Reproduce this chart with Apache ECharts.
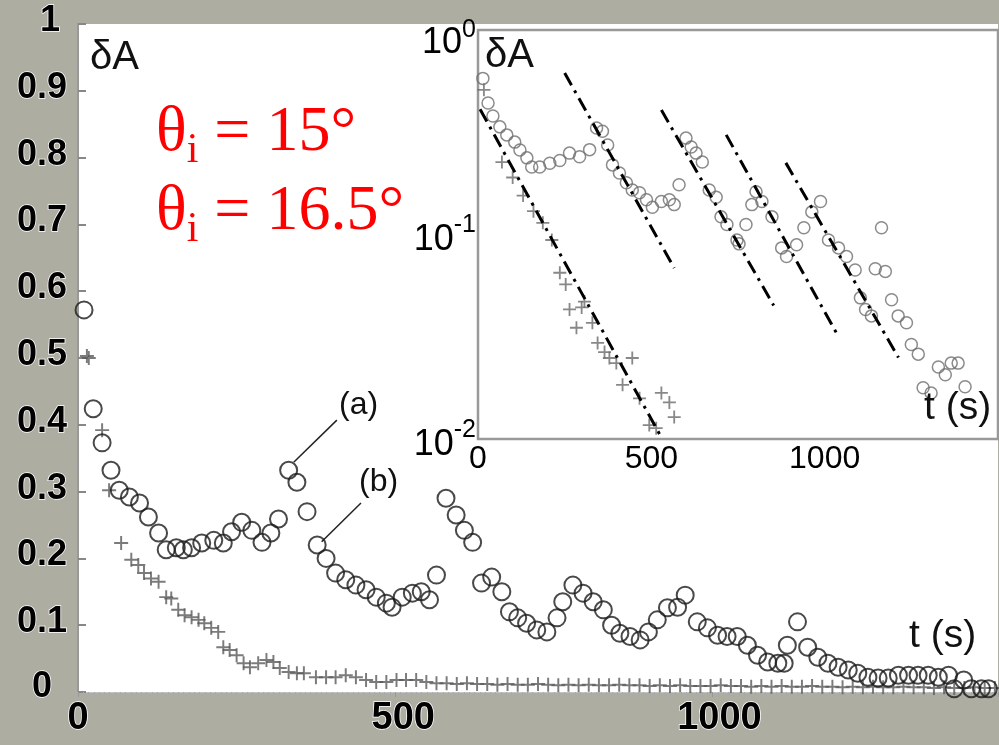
<!DOCTYPE html>
<html><head><meta charset="utf-8">
<script src="https://cdn.jsdelivr.net/npm/echarts@6/dist/echarts.min.js"></script>
<style>html,body{margin:0;padding:0;background:#aeada2}#c{width:999px;height:745px}</style>
</head><body><div id="c"></div>
<script>
// ---------- main panel data: t (s), deltaA ----------
const mainCircles = [
[9.5,0.572],[24,0.424],[38,0.373],[52,0.332],[65,0.302],[81,0.292],[97,0.283],[111,0.262],[127,0.238],[139,0.213],
[155,0.216],[166,0.213],[179,0.216],[195,0.223],[214,0.227],[229,0.223],[242,0.24],[258,0.254],[274,0.242],[290,0.224],
[304,0.238],[316,0.259],[332,0.332],[345,0.314],[361,0.27],[377,0.22],[391,0.2],[406,0.178],[422,0.168],[438,0.16],
[454,0.153],[470,0.142],[486,0.133],[495,0.127],[511,0.142],[527,0.148],[541,0.15],[554,0.138],[565,0.175],[580,0.29],
[596,0.265],[609,0.242],[622,0.224],[636,0.163],[652,0.172],[668,0.15],[680,0.12],[693,0.111],[707,0.103],[723,0.093],
[739,0.09],[755,0.111],[764,0.135],[780,0.16],[796,0.148],[812,0.135],[828,0.123],[841,0.1],[854,0.088],[870,0.083],
[886,0.078],[899,0.09],[913,0.108],[929,0.126],[945,0.127],[957,0.145],[976,0.105],[992,0.096],[1008,0.085],[1023,0.083],
[1039,0.083],[1055,0.07],[1071,0.055],[1087,0.045],[1103,0.043],[1113,0.043],[1118,0.07],[1134,0.105],[1150,0.067],[1166,0.052],
[1182,0.043],[1198,0.037],[1214,0.033],[1229,0.028],[1245,0.022],[1261,0.021],[1277,0.021],[1293,0.025],[1309,0.025],[1324,0.025],
[1340,0.025],[1356,0.022],[1372,0.025],[1381,0.005],[1396,0.018],[1408,0.005],[1424,0.005],[1435,0.005]
];
const mainCrosses = [
[14,0.503],[17,0.5],[38,0.392],[49,0.302],[68,0.223],[84,0.198],[95,0.19],[104,0.178],[115,0.17],[127,0.165],
[139,0.142],[147,0.14],[158,0.123],[168,0.115],[179,0.112],[190,0.108],[199,0.103],[210,0.096],[221,0.09],[229,0.067],
[239,0.063],[250,0.055],[261,0.043],[271,0.037],[284,0.043],[297,0.048],[308,0.045],[318,0.036],[332,0.03],[345,0.028],
[356,0.028],[375,0.022],[391,0.022],[406,0.022],[422,0.025],[438,0.022],[454,0.018],[470,0.015],[486,0.015],[502,0.018],
[517,0.018],[533,0.018],[549,0.015],[565,0.013],[581,0.013],[597,0.012],[613,0.013],[629,0.012],[645,0.012],[661,0.011],
[677,0.012],[693,0.011],[709,0.011],[725,0.012],[741,0.011],[757,0.01],[773,0.011],[789,0.01],[805,0.011],[821,0.01],
[837,0.01],[853,0.011],[869,0.01],[885,0.01],[901,0.009],[917,0.01],[933,0.009],[949,0.01],[965,0.009],[981,0.009],
[997,0.009],[1013,0.01],[1029,0.009],[1045,0.009],[1061,0.008],[1077,0.009],[1093,0.008],[1109,0.009],[1125,0.008],[1141,0.008],
[1157,0.009],[1173,0.008],[1189,0.008],[1205,0.007],[1221,0.008],[1237,0.007],[1253,0.008],[1269,0.007],[1285,0.007],[1301,0.008],
[1317,0.007],[1333,0.007],[1349,0.006],[1365,0.007],[1381,0.006],[1397,0.006],[1413,0.007],[1429,0.006],[1445,0.006]
];
// annotation leader lines (a) and (b): [t, deltaA] end points
const leaderA = [[340,0.344],[408,0.407]];
const leaderB = [[384,0.225],[446,0.283]];
const mainYTickLabels = ['0','0.1','0.2','0.3','0.4','0.5','0.6','0.7','0.8','0.9','1'];
const mainXTickLabels = {0:'0',500:'500',1000:'1000'};

// ---------- inset data (log scale) ----------
const insetCircles = [
[14,0.58],[29,0.44],[43,0.38],[63,0.336],[83,0.307],[106,0.283],[121,0.259],[141,0.237],[155,0.214],[178,0.214],
[207,0.223],[236,0.23],[264,0.25],[293,0.24],[322,0.26],[342,0.332],[359,0.32],[374,0.274],[388,0.219],[408,0.2],
[428,0.179],[445,0.165],[466,0.16],[486,0.148],[503,0.136],[529,0.145],[552,0.148],[566,0.14],[580,0.175],[600,0.296],
[615,0.268],[629,0.25],[647,0.226],[667,0.165],[687,0.152],[701,0.122],[718,0.112],[747,0.094],[753,0.09],[773,0.112],
[790,0.14],[802,0.162],[819,0.145],[848,0.122],[876,0.086],[890,0.078],[919,0.089],[940,0.108],[963,0.129],[988,0.145],
[1011,0.094],[1040,0.086],[1063,0.078],[1088,0.067],[1103,0.049],[1118,0.043],[1135,0.04],[1146,0.068],[1164,0.108],[1175,0.066],
[1193,0.048],[1212,0.04],[1236,0.037],[1250,0.029],[1270,0.026],[1284,0.0178],[1307,0.0168],[1328,0.0225],[1348,0.0206],[1365,0.0235],
[1385,0.0235],[1405,0.018]
];
const insetCrosses = [
[17,0.51],[69,0.226],[100,0.19],[130,0.155],[160,0.13],[187,0.114],[213,0.094],[236,0.065],[253,0.057],[264,0.043],
[284,0.035],[299,0.044],[307,0.047],[330,0.037],[345,0.0295],[365,0.0266],[379,0.0249],[399,0.0235],[417,0.0184],[445,0.0249],
[466,0.0158],[494,0.0117],[514,0.0113],[529,0.0168],[552,0.0151],[566,0.0128]
];
const fitLines = [
[[6,0.41],[526,0.0104]],
[[250,0.616],[566,0.0686]],
[[529,0.406],[853,0.045]],
[[716,0.307],[1034,0.033]],
[[888,0.224],[1213,0.025]]
];
const insetXTickLabels = {0:'0',500:'500',1000:'1000'};

const SANS = "'Liberation Sans', Arial, sans-serif";
const SERIF = "'Liberation Serif', 'Times New Roman', serif";
const crossPath = 'path://M4.3,0H5.7V4.3H10V5.7H5.7V10H4.3V5.7H0V4.3H4.3Z';

const chart = echarts.init(document.getElementById('c'), null, {renderer:'canvas'});

const series = [
  {type:'scatter', xAxisIndex:0, yAxisIndex:0, data: mainCrosses, symbol: crossPath, symbolSize: 14,
   itemStyle:{color:'#5a5a5a'}, z:3},
  {type:'scatter', xAxisIndex:0, yAxisIndex:0, data: mainCircles, symbol:'circle', symbolSize: 17,
   itemStyle:{color:'rgba(0,0,0,0)', borderColor:'#1c1c1c', borderWidth:2}, z:4},
  {type:'line', xAxisIndex:0, yAxisIndex:0, data: leaderA, symbol:'none', lineStyle:{color:'#222', width:1.5}, z:4},
  {type:'line', xAxisIndex:0, yAxisIndex:0, data: leaderB, symbol:'none', lineStyle:{color:'#222', width:1.5}, z:4},
  {type:'scatter', xAxisIndex:1, yAxisIndex:1, data: insetCircles, symbol:'circle', symbolSize: 12,
   itemStyle:{color:'rgba(0,0,0,0)', borderColor:'#6e6e6e', borderWidth:1.5}, z:5},
  {type:'scatter', xAxisIndex:1, yAxisIndex:1, data: insetCrosses, symbol: crossPath, symbolSize: 13,
   itemStyle:{color:'#6a6a6a'}, z:5}
];
fitLines.forEach(function(seg){
  series.push({type:'line', xAxisIndex:1, yAxisIndex:1, data: seg, symbol:'none',
    lineStyle:{color:'#000', width:3, type:[14,6,3,6]}, z:6});
});

const redRich = {
  a:{fontFamily:SERIF, fontSize:64, fill:'#f00', color:'#f00'},
  b:{fontFamily:SERIF, fontSize:42, fill:'#f00', color:'#f00', padding:[36,0,0,0]}
};

const option = {
  animation:false,
  backgroundColor:'#aeada2',
  grid:[
    {left:78, right:1, top:24, bottom:53, show:true, backgroundColor:'#fff', borderWidth:0, z:0},
    {left:478, right:1, top:30, bottom:306, show:true, backgroundColor:'#fff', borderColor:'#999', borderWidth:2.5, z:1}
  ],
  xAxis:[
    {gridIndex:0, type:'value', min:0, max:1450, interval:500,
     axisLine:{show:true, lineStyle:{color:'#c4c4c4', width:1}},
     axisTick:{show:true, length:5, lineStyle:{color:'#999'}},
     minorTick:{show:true, splitNumber:60, length:5, lineStyle:{color:'#aaa'}},
     splitLine:{show:false},
     axisLabel:{fontFamily:SANS, fontSize:38, fontWeight:'bold', color:'#000', margin:8, textBorderColor:'#fff', textBorderWidth:1.5,
       showMaxLabel:false,
       formatter:function(v){ return mainXTickLabels[v] !== undefined ? '{x'+v+'|'+mainXTickLabels[v]+'}' : ''; },
       rich:{
         x0:{fontFamily:SANS, fontSize:38, fontWeight:'bold', padding:[0,0,0,0]},
         x500:{fontFamily:SANS, fontSize:38, fontWeight:'bold', padding:[0,0,0,16]},
         x1000:{fontFamily:SANS, fontSize:38, fontWeight:'bold', padding:[0,0,0,14]}
       }}},
    {gridIndex:1, type:'value', min:0, max:1500, interval:500,
     axisLine:{show:false},
     axisTick:{show:true, inside:true, length:5, lineStyle:{color:'#333', width:1.5}},
     splitLine:{show:false},
     axisLabel:{fontFamily:SANS, fontSize:32, color:'#000', margin:4, showMaxLabel:false,
       formatter:function(v){ return insetXTickLabels[v] !== undefined ? insetXTickLabels[v] : ''; }}}
  ],
  yAxis:[
    {gridIndex:0, type:'value', min:0, max:1, interval:0.1,
     axisLine:{show:true, lineStyle:{color:'#999', width:2}},
     axisTick:{show:true, inside:true, length:8, lineStyle:{color:'#888', width:2}},
     splitLine:{show:false},
     axisLabel:{fontFamily:SANS, fontSize:36, fontWeight:'bold', color:'#000', margin:11, textBorderColor:'#fff', textBorderWidth:1.5,
       formatter:function(v){
         const i = Math.round(v*10);
         const s = mainYTickLabels[i];
         if (i===0) return '{z|'+s+'}';
         if (i===10) return '{o|'+s+'}';
         return '{n|'+s+'}';
       },
       rich:{
         n:{fontFamily:SANS, fontSize:36, fontWeight:'bold', padding:[0,0,6,0]},
         z:{fontFamily:SANS, fontSize:36, fontWeight:'bold', padding:[0,15,10,0]},
         o:{fontFamily:SANS, fontSize:36, fontWeight:'bold', padding:[0,7,6,0]}
       }}},
    {gridIndex:1, type:'log', logBase:10, min:0.01, max:1,
     axisLine:{show:false},
     axisTick:{show:true, inside:true, length:6, lineStyle:{color:'#333', width:1.5}},
     minorTick:{show:true, splitNumber:9, length:3, lineStyle:{color:'#333'}},
     splitLine:{show:false},
     axisLabel:{fontFamily:SANS, color:'#000', margin:2,
       formatter:function(v){
         const e = Math.round(Math.log10(v));
         if (e===0) return '{bt|10}{st|'+e+'}';
         return '{b|10}{s|'+e+'}';
       },
       rich:{
         b:{fontFamily:SANS, fontSize:36, padding:[12,0,0,0]},
         s:{fontFamily:SANS, fontSize:25, padding:[0,0,18,0]},
         bt:{fontFamily:SANS, fontSize:36, padding:[26,0,0,0]},
         st:{fontFamily:SANS, fontSize:25, padding:[0,0,0,0]}
       }}}
  ],
  graphic:[
    {type:'text', left:90, top:38, z:100, style:{text:'δA', font:"40px 'Liberation Sans', Arial, sans-serif", fill:'#111'}},
    {type:'text', left:485, top:36, z:100, style:{text:'δA', font:"40px 'Liberation Sans', Arial, sans-serif", fill:'#111'}},
    {type:'text', left:909, top:617, z:100, style:{text:'t (s)', font:"39px 'Liberation Sans', Arial, sans-serif", fill:'#111'}},
    {type:'text', left:924, top:389, z:100, style:{text:'t (s)', font:"39px 'Liberation Sans', Arial, sans-serif", fill:'#111'}},
    {type:'text', left:339, top:389, z:100, style:{text:'(a)', font:"32px 'Liberation Sans', Arial, sans-serif", fill:'#111'}},
    {type:'text', left:359, top:466, z:100, style:{text:'(b)', font:"32px 'Liberation Sans', Arial, sans-serif", fill:'#111'}},
    {type:'text', left:156, top:101, z:100, style:{text:'{a|θ}{b|i}{a| = 15°}', fill:'#f00', rich:redRich}},
    {type:'text', left:156, top:180, z:100, style:{text:'{a|θ}{b|i}{a| = 16.5°}', fill:'#f00', rich:redRich}}
  ],
  series: series
};
chart.setOption(option);
</script>
</body></html>
